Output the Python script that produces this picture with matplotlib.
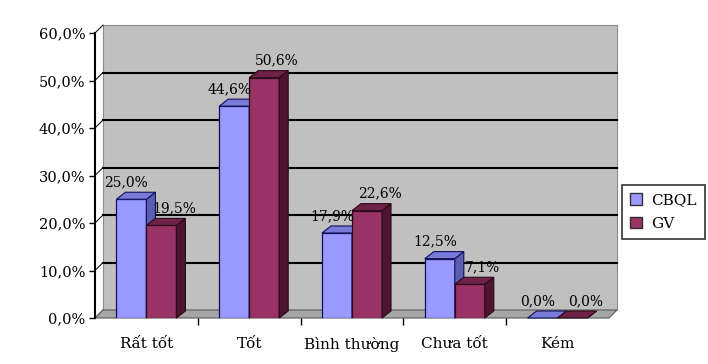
import matplotlib
matplotlib.use("Agg")
import matplotlib.pyplot as plt
from matplotlib.patches import Polygon, Patch

plt.rcParams['font.family'] = ['DejaVu Serif']

categories = ["Rất tốt", "Tốt", "Bình thường", "Chưa tốt", "Kém"]
series_names = ["CBQL", "GV"]
cbql = [25.0, 44.6, 17.9, 12.5, 0.0]
gv = [19.5, 50.6, 22.6, 7.1, 0.0]
yticks = [0, 10, 20, 30, 40, 50, 60]

fig = plt.figure(figsize=(7.08, 3.64), dpi=100)
W, H = 708, 364
ax = fig.add_axes([95 / W, 46 / H, 514 / W, 285 / H])
ax.set_xlim(0, len(categories))
ax.set_ylim(0, 60)
ax.patch.set_visible(False)
for s in ["top", "right", "bottom"]:
    ax.spines[s].set_visible(False)
ax.spines["left"].set_linewidth(1.5)
ax.spines["left"].set_zorder(6)

fig.canvas.draw()
p0 = ax.transData.transform((0, 0))
p1 = ax.transData.transform((1, 1))
sx, sy = p1[0] - p0[0], p1[1] - p0[1]
wdx, wdy = 8 / sx, 8 / sy
bdx, bdy = 9 / sx, 7 / sy
n = len(categories)

# back wall
ax.add_patch(Polygon([(wdx, wdy), (n + wdx, wdy), (n + wdx, 60 + wdy), (wdx, 60 + wdy)],
                     closed=True, facecolor="#c0c0c0", edgecolor="#8a8a8a", lw=0.8,
                     zorder=0, clip_on=False))
for y in yticks[1:-1]:
    ax.plot([wdx, n + wdx], [y + wdy, y + wdy], color="black", lw=1.5, zorder=1, clip_on=False)
for y in yticks:
    ax.plot([0, wdx], [y, y + wdy], color="black", lw=0.7, zorder=1, clip_on=False)
# floor
ax.add_patch(Polygon([(0, 0), (n, 0), (n + wdx, wdy), (wdx, wdy)], closed=True,
                     facecolor="#a6a6a6", edgecolor="#5a5a5a", lw=0.8, zorder=1, clip_on=False))

w = 30 / sx
xs = [i + 0.5 for i in range(n)]
styles = [
    dict(front="#9999ff", side="#5c5cb0", top="#7a7ad8", edge="#10105a", dx=-5),
    dict(front="#993366", side="#4d1530", top="#6e2248", edge="#2a0a18", dx=13),
]
for k, vals in enumerate([cbql, gv]):
    st = styles[k]
    lefts = [x - w + k * w for x in xs]
    ax.bar(lefts, vals, width=w, align="edge", color=st["front"], edgecolor=st["edge"],
           lw=0.9, zorder=3 + 2 * k)
    for l, v in zip(lefts, vals):
        r = l + w
        ax.add_patch(Polygon([(r, 0), (r, v), (r + bdx, v + bdy), (r + bdx, bdy)], closed=True,
                             facecolor=st["side"], edgecolor=st["edge"], lw=0.8,
                             zorder=3 + 2 * k, clip_on=False))
        ax.add_patch(Polygon([(l, v), (r, v), (r + bdx, v + bdy), (l + bdx, v + bdy)], closed=True,
                             facecolor=st["top"], edgecolor=st["edge"], lw=0.8,
                             zorder=3 + 2 * k, clip_on=False))
        ax.annotate(f"{v:.1f}%".replace(".", ","), (l + w / 2, v), xytext=(st["dx"], 17),
                    textcoords="offset pixels", ha="center", va="center", fontsize=10,
                    zorder=10, annotation_clip=False)

ax.set_yticks(yticks)
ax.set_yticklabels([f"{t:.1f}%".replace(".", ",") for t in yticks], fontsize=10.5)
ax.tick_params(axis="y", direction="out", length=4, width=1, pad=3)
ax.set_xticks(xs)
ax.set_xticklabels(categories, fontsize=11)
ax.tick_params(axis="x", which="major", length=0, pad=14)
ax.set_xticks(list(range(1, n)), minor=True)
ax.tick_params(axis="x", which="minor", length=5, width=1, direction="out")

handles = [Patch(facecolor=styles[0]["front"], edgecolor="#303030"),
           Patch(facecolor=styles[1]["front"], edgecolor="#303030")]
leg = fig.legend(handles, series_names, loc="upper left", bbox_to_anchor=(622 / W, 1 - 185 / H),
                 fontsize=11, frameon=True, fancybox=False, edgecolor="black",
                 handlelength=0.75, handleheight=0.75, handletextpad=0.6, borderpad=0.55,
                 labelspacing=0.6, borderaxespad=0)
leg.get_frame().set_linewidth(1.2)

fig.savefig("out.png", dpi=100)
